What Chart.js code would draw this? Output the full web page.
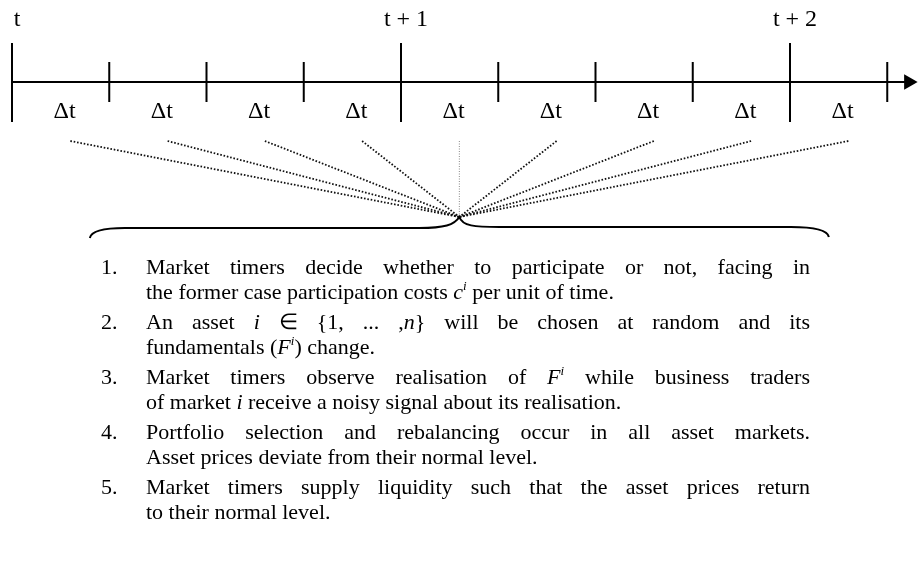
<!DOCTYPE html>
<html>
<head>
<meta charset="utf-8">
<script src="https://cdn.jsdelivr.net/npm/chart.js@4.4.1/dist/chart.umd.min.js"></script>
<style>
  html, body { margin: 0; padding: 0; background: #fff; }
  #wrap { width: 921px; height: 563px; }
</style>
</head>
<body>
<div id="wrap"><canvas id="timeline"></canvas></div>
<script>
// time grid, counted in sub-periods (delta t)
const periodTicks = [0, 4, 8];
const periodLabels = ['t', 't + 1', 't + 2'];
const subTicks = [1, 2, 3, 5, 6, 7, 9];
const deltaSlots = [0, 1, 2, 3, 4, 5, 6, 7, 8];
const deltaLabel = '\u0394t';
const fanFocus = 4.6;       // where all sub-periods meet
const braceSpan = [0.8, 8.4];

// sequence of events within one delta t  (*x* italic, ^x^ superscript)
const steps = [
  ['Market timers decide whether to participate or not, facing in',
   'the former case participation costs *c*^i^ per unit of time.'],
  ['An asset *i* \u2208 {1, ... ,*n*} will be chosen at random and its',
   'fundamentals (*F*^i^) change.'],
  ['Market timers observe realisation of *F*^i^ while business traders',
   'of market *i* receive a noisy signal about its realisation.'],
  ['Portfolio selection and rebalancing occur in all asset markets.',
   'Asset prices deviate from their normal level.'],
  ['Market timers supply liquidity such that the asset prices return',
   'to their normal level.']
];

// layout (y in page pixels)
const Y = { label: 20, axis: 82, majTop: 43, majBot: 122, minTop: 62, minBot: 102,
            delta: 112, fanTop: 141, fanBot: 217, brace: 228, braceEnd: 238,
            text: 274, lineGap: 25, itemGap: 30 };
const TXT = { num: 101, left: 146, right: 810, size: 22 };
const SERIF = '"Liberation Serif", "Times New Roman", serif';

function seg(x1, y1, x2, y2, opts) {
  return Object.assign({
    data: [{x: x1, y: y1}, {x: x2, y: y2}],
    borderColor: '#000', borderWidth: 2, pointRadius: 0, tension: 0
  }, opts || {});
}

const datasets = [];
// time axis with arrow
datasets.push(seg(0, Y.axis, 9.2, Y.axis));
datasets.push({
  data: [{x: 9.22, y: Y.axis}], showLine: false,
  pointStyle: 'triangle', rotation: 90, pointRadius: 9,
  pointBackgroundColor: '#000', pointBorderColor: '#000', pointBorderWidth: 0
});
periodTicks.forEach(p => datasets.push(seg(p, Y.majTop, p, Y.majBot)));
subTicks.forEach(p => datasets.push(seg(p, Y.minTop, p, Y.minBot)));
// dotted fan from each delta t to the event sequence
deltaSlots.forEach(k => {
  const x0 = k + 0.6;
  const vertical = Math.abs(x0 - fanFocus) < 0.01;
  datasets.push(seg(x0, Y.fanTop, fanFocus, Y.fanBot, {
    borderColor: vertical ? '#888' : '#111',
    borderWidth: vertical ? 1 : 1.8,
    borderDash: vertical ? [1, 1.5] : [1.6, 1.8]
  }));
});

function parseWords(line) {
  return line.split(' ').map(w => {
    const runs = [];
    const re = /\*([^*]+)\*|\^([^^]+)\^|([^*^]+)/g;
    let m;
    while ((m = re.exec(w))) {
      if (m[1]) runs.push({t: m[1], s: 'it'});
      else if (m[2]) runs.push({t: m[2], s: 'sup'});
      else runs.push({t: m[3], s: 'rm'});
    }
    return runs;
  });
}

function fontFor(s) {
  if (s === 'it') return 'italic ' + TXT.size + 'px ' + SERIF;
  if (s === 'sup') return 'italic ' + Math.round(TXT.size * 0.6) + 'px ' + SERIF;
  return TXT.size + 'px ' + SERIF;
}

function wordWidth(ctx, runs) {
  return runs.reduce((w, r) => { ctx.font = fontFor(r.s); return w + ctx.measureText(r.t).width; }, 0);
}

function drawLine(ctx, line, y, justify) {
  const words = parseWords(line);
  const widths = words.map(w => wordWidth(ctx, w));
  ctx.font = fontFor('rm');
  let gap = ctx.measureText(' ').width;
  if (justify && words.length > 1) {
    const total = widths.reduce((a, b) => a + b, 0);
    gap = (TXT.right - TXT.left - total) / (words.length - 1);
  }
  let x = TXT.left;
  words.forEach(runs => {
    runs.forEach(r => {
      ctx.font = fontFor(r.s);
      ctx.fillText(r.t, x, r.s === 'sup' ? y - TXT.size * 0.42 : y);
      x += ctx.measureText(r.t).width;
    });
    x += gap;
  });
}

const annotations = {
  id: 'annotations',
  afterDatasetsDraw(chart) {
    const {ctx, scales: {x: sx, y: sy}} = chart;
    ctx.save();
    ctx.fillStyle = '#000';
    // period labels
    ctx.font = '24px ' + SERIF;
    ctx.textAlign = 'center';
    ctx.textBaseline = 'middle';
    periodTicks.forEach((p, i) => ctx.fillText(periodLabels[i], sx.getPixelForValue(p) + 5, sy.getPixelForValue(Y.label)));
    // delta t labels
    deltaSlots.forEach(k => ctx.fillText(deltaLabel, sx.getPixelForValue(k + 0.54), sy.getPixelForValue(Y.delta)));

    // curly brace gathering the fan
    const xa = sx.getPixelForValue(braceSpan[0]);
    const xb = sx.getPixelForValue(braceSpan[1]);
    const xm = sx.getPixelForValue(fanFocus);
    const yb = sy.getPixelForValue(Y.brace);
    const ye = sy.getPixelForValue(Y.braceEnd);
    const ym = sy.getPixelForValue(Y.fanBot);
    ctx.strokeStyle = '#000';
    ctx.lineWidth = 2;
    ctx.beginPath();
    ctx.moveTo(xa, ye);
    ctx.quadraticCurveTo(xa + 2, yb, xa + 35, yb);
    ctx.lineTo(xm - 40, yb);
    ctx.bezierCurveTo(xm - 15, yb, xm - 5, yb - 3, xm, ym);
    ctx.bezierCurveTo(xm + 3, yb - 2, xm + 15, yb - 1, xm + 40, yb - 1);
    ctx.lineTo(xb - 38, yb - 1);
    ctx.quadraticCurveTo(xb - 2, yb - 1, xb, ye - 1);
    ctx.stroke();

    // numbered steps
    ctx.textAlign = 'left';
    ctx.textBaseline = 'alphabetic';
    let y = Y.text;
    steps.forEach((lines, i) => {
      ctx.font = fontFor('rm');
      ctx.fillText((i + 1) + '.', TXT.num, y);
      lines.forEach((line, j) => {
        drawLine(ctx, line, y, j < lines.length - 1);
        y += Y.lineGap;
      });
      y += Y.itemGap - Y.lineGap;
    });
    ctx.restore();
  }
};

new Chart(document.getElementById('timeline'), {
  type: 'line',
  data: { datasets },
  options: {
    responsive: true,
    maintainAspectRatio: false,
    devicePixelRatio: 1,
    animation: false,
    layout: { padding: 0, autoPadding: false },
    plugins: { legend: { display: false }, tooltip: { enabled: false } },
    scales: {
      x: { type: 'linear', min: -12 / 97.25, max: -12 / 97.25 + 921 / 97.25, display: false },
      y: { type: 'linear', min: 0, max: 563, reverse: true, display: false }
    }
  },
  plugins: [annotations]
});
</script>
</body>
</html>
